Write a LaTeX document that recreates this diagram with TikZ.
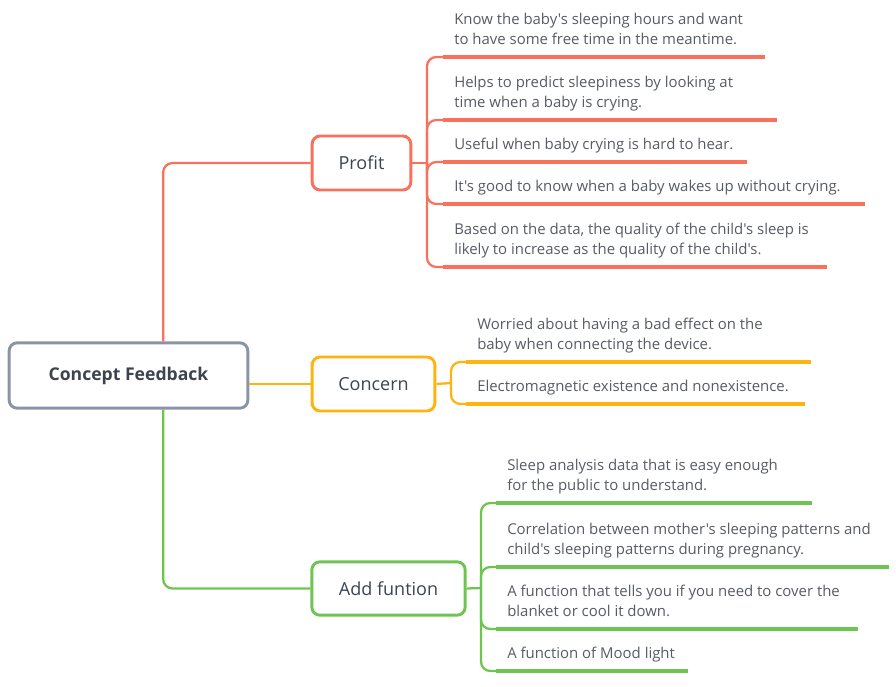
\documentclass[tikz,border=0pt]{standalone}
\usepackage{fontspec}
\setmainfont{Open Sans}[Ligatures=TeXOff]
\definecolor{rootc}{HTML}{8A94A6}
\definecolor{profc}{HTML}{F9715D}
\definecolor{concc}{HTML}{FFB30F}
\definecolor{addc}{HTML}{6EC451}
\definecolor{labc}{HTML}{3D4450}
\definecolor{itemc}{HTML}{575B63}
\begin{document}
\begin{tikzpicture}[x=0.75pt,y=-0.75pt,
  box/.style={draw, line width=2.2pt, rounded corners=6pt, fill=white, text=labc,
    font=\fontsize{13.5pt}{16pt}\selectfont, inner sep=0pt},
  conn/.style={line width=1.7pt, rounded corners=7pt},
  uline/.style={line width=2.3pt},
  item/.style={anchor=south west, align=left, inner xsep=8.25pt, inner ysep=0pt,
    text depth=9.4pt, text=itemc, font=\fontsize{11.2pt}{15pt}\selectfont}]
\useasboundingbox (0,0) rectangle (896,686);

% central and main nodes
\node[box, draw=rootc, minimum width=179pt, minimum height=49pt, font=\fontsize{13.2pt}{16pt}\selectfont\bfseries] (root) at (128.5,375.5) {Concept Feedback};
\node[box, draw=profc, minimum width=74pt, minimum height=40.5pt] (prof) at (361.5,163) {Profit};
\node[box, draw=concc, minimum width=92pt, minimum height=40.5pt] (conc) at (373.5,384) {Concern};
\node[box, draw=addc, minimum width=115pt, minimum height=40pt] (add) at (388.5,588.5) {Add funtion};

% main connectors
\draw[conn, profc] ([xshift=26pt]root.north) |- (prof.west);
\draw[conn, concc] (conc.west -| root.east) -- (conc.west);
\draw[conn, addc] ([xshift=26pt]root.south) |- (add.west);

% Profit items
\coordinate (pj) at (427,163);
\node[item] (p1) at (443,57) {Know the baby's sleeping hours and want\\to have some free time in the meantime.};
\node[item] (p2) at (443,120) {Helps to predict sleepiness by looking at\\time when a baby is crying.};
\node[item] (p3) at (443,162) {Useful when baby crying is hard to hear.};
\node[item] (p4) at (443,204) {It's good to know when a baby wakes up without crying.};
\node[item] (p5) at (443,267) {Based on the data, the quality of the child's sleep is\\likely to increase as the quality of the child's.};
\coordinate (p1e) at (765,57);
\coordinate (p2e) at (777,120);
\coordinate (p3e) at (747,162);
\coordinate (p4e) at (865,204);
\coordinate (p5e) at (827,267);
\draw[conn, profc] (prof.east) -- (pj);
\foreach \i in {1,...,5}{
  \draw[conn, profc] (pj) |- (p\i.south west);
  \draw[uline, profc] (p\i.south west) -- (p\i e);
}

% Concern items
\coordinate (cj) at (451,383);
\node[item] (c1) at (466,362) {Worried about having a bad effect on the\\baby when connecting the device.};
\node[item] (c2) at (466,404) {Electromagnetic existence and nonexistence.};
\coordinate (c1e) at (811,362);
\coordinate (c2e) at (805,404);
\draw[conn, concc] (conc.east) -- (cj);
\foreach \i in {1,2}{
  \draw[conn, concc] (cj) |- (c\i.south west);
  \draw[uline, concc] (c\i.south west) -- (c\i e);
}

% Add funtion items
\coordinate (aj) at (481,588);
\node[item] (a1) at (496,503) {Sleep analysis data that is easy enough\\for the public to understand.};
\node[item] (a2) at (496,567) {Correlation between mother's sleeping patterns and\\child's sleeping patterns during pregnancy.};
\node[item] (a3) at (496,629) {A function that tells you if you need to cover the\\blanket or cool it down.};
\node[item] (a4) at (496,671) {A function of Mood light};
\coordinate (a1e) at (812,503);
\coordinate (a2e) at (889,567);
\coordinate (a3e) at (858,629);
\coordinate (a4e) at (688,671);
\draw[conn, addc] (add.east) -- (aj);
\foreach \i in {1,...,4}{
  \draw[conn, addc] (aj) |- (a\i.south west);
  \draw[uline, addc] (a\i.south west) -- (a\i e);
}
\end{tikzpicture}
\end{document}
